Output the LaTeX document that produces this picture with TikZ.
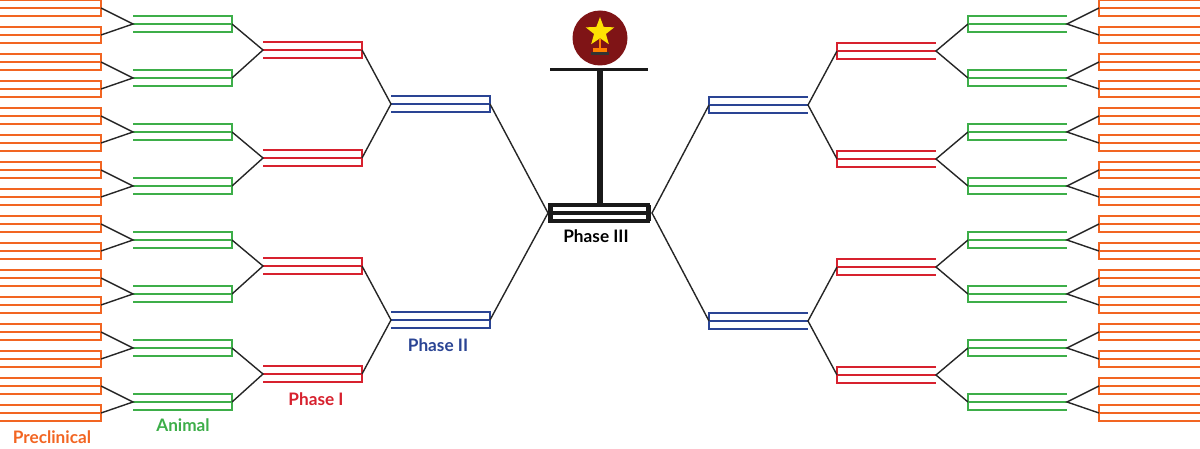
\documentclass[tikz,border=0pt]{standalone}
\usepackage{fontspec}
\setmainfont{Lato}
\usetikzlibrary{shapes.geometric}
\definecolor{preorange}{HTML}{F26522}
\definecolor{animgreen}{HTML}{3DAE49}
\definecolor{phasered}{HTML}{D7212E}
\definecolor{phaseblue}{HTML}{2A4494}
\definecolor{trophyred}{HTML}{7F1416}

% slot: name, x of open end, x of bar end, y, colour
\newcommand\slotbox[5]{%
  \draw[#5, line width=0.7pt] (#2,#4-8) -- (#3,#4-8) -- (#3,#4+8) -- (#2,#4+8) (#2,#4) -- (#3,#4);
  \draw[#5, line width=1.4pt] (#3,#4-8) -- (#3,#4+8);
  \coordinate (#1-in) at (#2,#4);
  \coordinate (#1) at (#3,#4);
}

\begin{document}
\begin{tikzpicture}[x=0.5pt, y=-0.5pt, link/.style={black!85, line width=0.7pt},
  label/.style={font=\bfseries\fontsize{8.6}{10}\selectfont}]
  \useasboundingbox (0,0) rectangle (1200,449);

  % left half
  \foreach \k in {0,...,15} {\slotbox{oL\k}{0}{101}{8+27*\k}{preorange}}
  \foreach \k in {0,...,7} {\slotbox{gL\k}{133}{232}{24+54*\k}{animgreen}}
  \foreach \k in {0,...,3} {\slotbox{rL\k}{263}{362}{50+108*\k}{phasered}}
  \foreach \k in {0,1} {\slotbox{bL\k}{391}{490}{104+216*\k}{phaseblue}}

  % right half
  \foreach \k in {0,...,15} {\slotbox{oR\k}{1200}{1099}{8+27*\k}{preorange}}
  \foreach \k in {0,...,7} {\slotbox{gR\k}{1067}{968}{24+54*\k}{animgreen}}
  \foreach \k in {0,...,3} {\slotbox{rR\k}{936}{837}{51+108*\k}{phasered}}
  \foreach \k in {0,1} {\slotbox{bR\k}{808}{709}{105+216*\k}{phaseblue}}

  % final
  \draw[black!90, line width=1.6pt] (550,205) rectangle (648,221) (550,213) -- (648,213);
  \draw[black!90, line width=2.5pt] (550,205) -- (550,221) (648,205) -- (648,221);
  \coordinate (finL) at (548,213);
  \coordinate (finR) at (652,213);
  \coordinate (finT) at (600,205);
  \coordinate (barT) at (600,70);

  % links
  \foreach \k in {0,...,7} {
    \pgfmathtruncatemacro\a{2*\k}\pgfmathtruncatemacro\b{2*\k+1}
    \draw[link] (oL\a) -- (gL\k-in) -- (oL\b);
    \draw[link] (oR\a) -- (gR\k-in) -- (oR\b);
  }
  \foreach \k in {0,...,3} {
    \pgfmathtruncatemacro\a{2*\k}\pgfmathtruncatemacro\b{2*\k+1}
    \draw[link] (gL\a) -- (rL\k-in) -- (gL\b);
    \draw[link] (gR\a) -- (rR\k-in) -- (gR\b);
  }
  \foreach \k in {0,1} {
    \pgfmathtruncatemacro\a{2*\k}\pgfmathtruncatemacro\b{2*\k+1}
    \draw[link] (rL\a) -- (bL\k-in) -- (rL\b);
    \draw[link] (rR\a) -- (bR\k-in) -- (rR\b);
  }
  \draw[link] (bL0) -- (finL) -- (bL1);
  \draw[link] (bR0) -- (finR) -- (bR1);

  % trophy
  \draw[black!90, line width=1.5pt] (550,70) -- (648,70);
  \draw[black!90, line width=3pt] (barT) -- (finT);
  \node[circle, fill=trophyred, minimum size=27.5pt, inner sep=0pt] (cup) at (600,38) {};
  \node[star, star points=5, star point ratio=2.4, fill=yellow!85!orange, minimum size=15pt, inner sep=0pt] (star) at (600,32) {};
  \draw[orange, line width=1.2pt] (star.south) -- (600,49);
  \fill[orange] (593,48) rectangle (607,52);
  \fill[black!80] (591,52) rectangle (609,55);

  % labels
  \node[label, preorange] (pre) at (52,437) {Preclinical};
  \node[label, animgreen] (ani) at (183,425) {Animal};
  \node[label, phasered] (p1) at (316,399) {Phase I};
  \node[label, phaseblue] (p2) at (438,345) {Phase II};
  \node[label, black] (p3) at (596,236) {Phase III};
\end{tikzpicture}
\end{document}
